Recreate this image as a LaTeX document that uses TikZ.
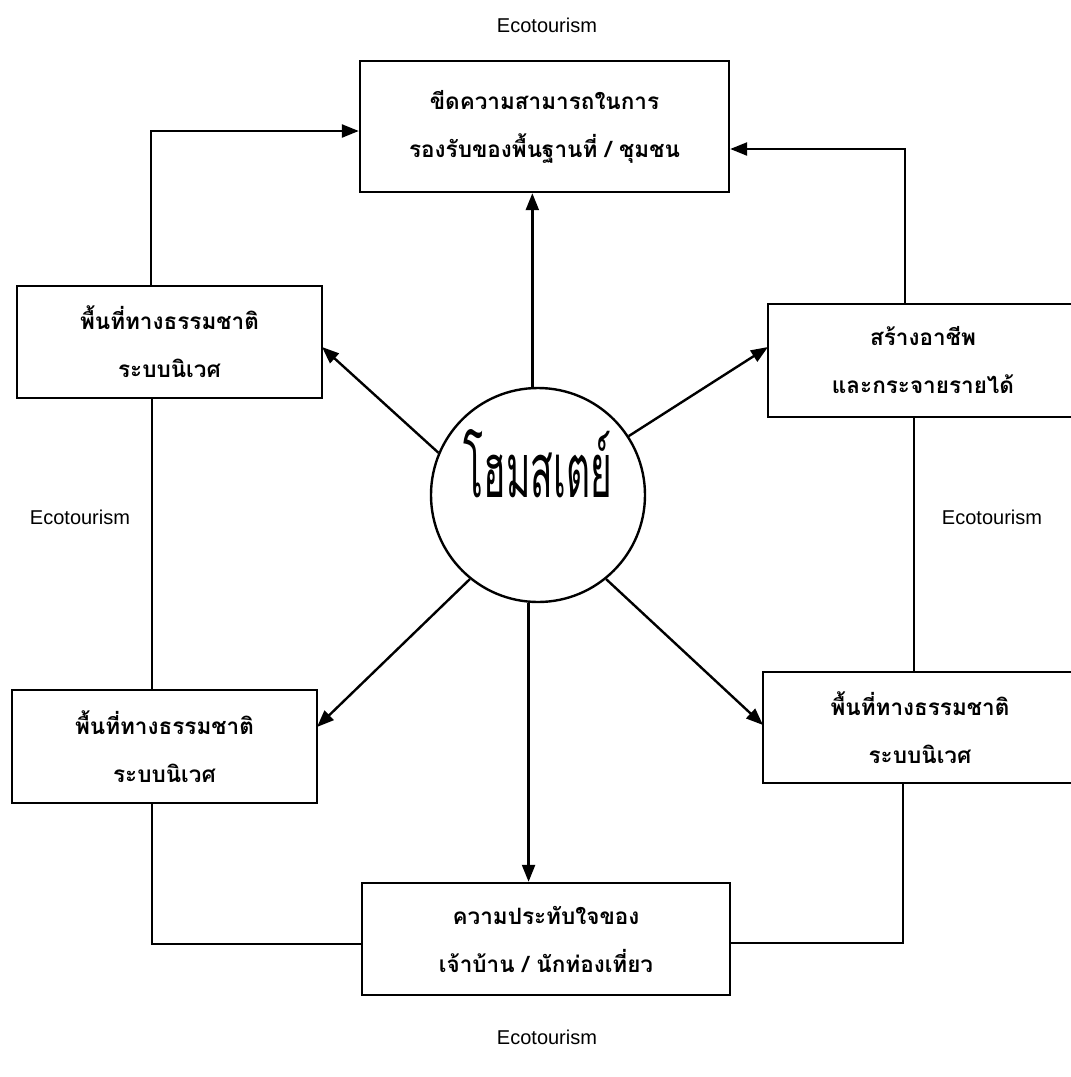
\documentclass[tikz,border=0pt]{standalone}
\usepackage{fontspec}
\setmainfont{Liberation Sans}
\newfontfamily\thai[Script=Thai]{Loma}
\usetikzlibrary{arrows.meta}
\begin{document}
\begin{tikzpicture}[x=1pt,y=-1pt,
  box/.style={draw, line width=2.4pt, inner sep=0pt, align=center,
    font=\thai\bfseries\fontsize{22.5}{48}\selectfont},
  arr/.style={-{Triangle[length=17pt,width=13pt]}, line width=2.4pt},
  link/.style={line width=2.4pt},
  lbl/.style={font=\fontsize{20}{24}\selectfont, inner sep=0pt}]
\useasboundingbox (0,0) rectangle (1071,1077);
\clip (0,0) rectangle (1071,1077);
\fill[white] (0,0) rectangle (1071,1077);

% boxes
\node[box, minimum width=369pt, minimum height=131pt] (T) at (544.5,126.5)
  {ขีดความสามารถในการ\\รองรับของพื้นฐานที่ / ชุมชน};
\node[box, minimum width=305pt, minimum height=112pt] (LT) at (169.5,342)
  {พื้นที่ทางธรรมชาติ\\ระบบนิเวศ};
\node[box, minimum width=310pt, minimum height=113pt] (RT) at (923,360.5)
  {สร้างอาชีพ\\และกระจายรายได้};
\node[box, minimum width=305pt, minimum height=113pt] (LB) at (164.5,746.5)
  {พื้นที่ทางธรรมชาติ\\ระบบนิเวศ};
\node[box, minimum width=314pt, minimum height=111pt] (RB) at (920,727.5)
  {พื้นที่ทางธรรมชาติ\\ระบบนิเวศ};
\node[box, minimum width=368pt, minimum height=112pt] (B) at (546,939)
  {ความประทับใจของ\\เจ้าบ้าน / นักท่องเที่ยว};

% centre circle
\node[draw, circle, line width=2.4pt, minimum size=214pt, inner sep=0pt] (c) at (538,495) {};
\node[inner sep=0pt] (ct) at (538,464) {\resizebox{148pt}{68pt}{\thai โฮมสเตย์}};

% labels
\node[lbl] (e1) at (547,25) {Ecotourism};
\node[lbl] (e2) at (80,517) {Ecotourism};
\node[lbl] (e3) at (992,517) {Ecotourism};
\node[lbl] (e4) at (547,1037) {Ecotourism};

% helper coordinates
\coordinate (ltIn) at (322,347);
\coordinate (rtIn) at (768,347);
\coordinate (lbIn) at (317,727);
\coordinate (rbIn) at (763,725);
\coordinate (lTop) at (151,131);
\coordinate (rTop) at (905,149);
\coordinate (lx) at (152,0);
\coordinate (rx) at (914,0);
\coordinate (lBot) at (152,944);
\coordinate (rBot) at (903,943);

% arrows from circle
\draw[arr] (c.93) -- (c.93 |- T.south);
\draw[arr] (c.265) -- (c.265 |- B.north);
\draw[arr] (c.157) -- (ltIn);
\draw[arr] (c.33) -- (rtIn);
\draw[arr] (c.231) -- (lbIn);
\draw[arr] (c.309) -- (rbIn);

% outer loop
\draw[arr] (LT.north -| lTop) |- (T.west |- lTop);
\draw[arr] (RT.north -| rTop) |- (T.east |- rTop);
\draw[link] (LT.south -| lx) -- (LB.north -| lx);
\draw[link] (RT.south -| rx) -- (RB.north -| rx);
\draw[link] (LB.south -| lBot) |- (B.west |- lBot);
\draw[link] (RB.south -| rBot) |- (B.east |- rBot);
\end{tikzpicture}
\end{document}
